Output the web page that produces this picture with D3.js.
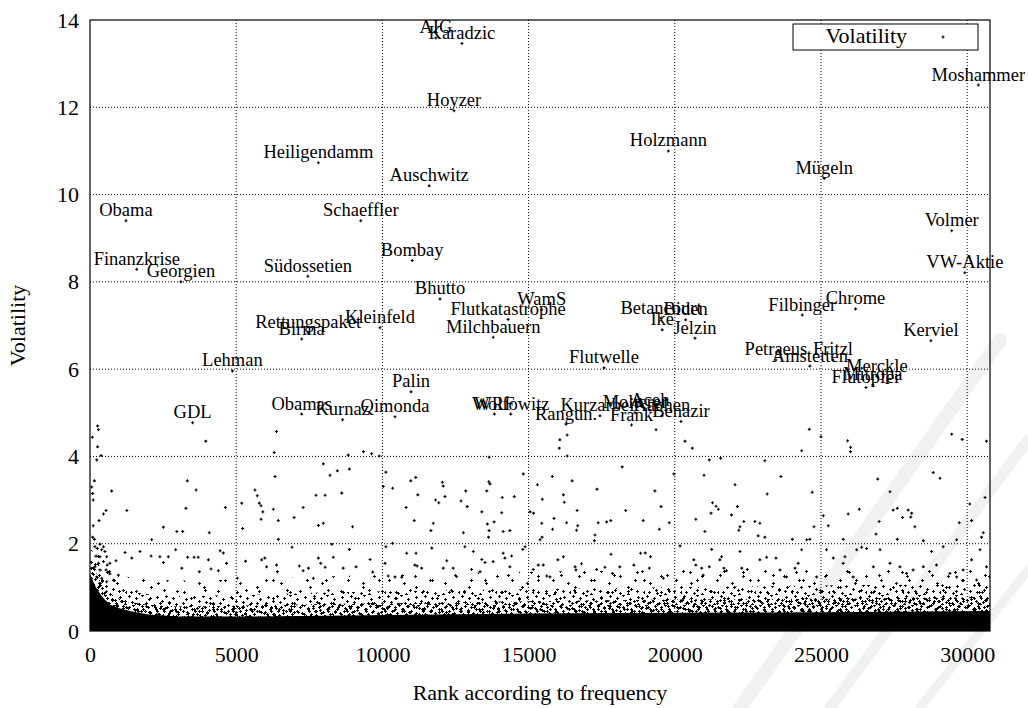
<!DOCTYPE html>
<html>
<head>
<meta charset="UTF-8">
<title>Volatility by frequency rank</title>
<script src="https://cdn.jsdelivr.net/npm/d3@7"></script>
<style>
  body { margin: 0; background: #fff; }
  text { font-family: "Liberation Serif", "DejaVu Serif", serif; fill: #000; }
</style>
</head>
<body>
<script>
// axis ticks
var xTicks = [0, 5000, 10000, 15000, 20000, 25000, 30000];
var yTicks = [0, 2, 4, 6, 8, 10, 12, 14];

// labelled words: name, rank, volatility
var words = ["AIG","Karadzic","Hoyzer","Holzmann","Heiligendamm","Auschwitz","Moshammer","Mügeln","Volmer","Obama",
  "Schaeffler","Finanzkrise","Georgien","Südossetien","Bombay","VW-Aktie","Bhutto","WamS","Flutkatastrophe","Filbinger",
  "Chrome","Betancourt","Biden","Ike","Jelzin","Kleinfeld","Rettungspaket","Birma","Milchbauern","Kerviel",
  "Lehman","Flutwelle","Petraeus","Fritzl","Amstetten","Merckle","Mitropa","Flutopfer","Palin","GDL",
  "Obamas","Kurnaz","Qimonda","WRF","Wolfowitz","Kurzarbeit","Rangun.","Molterer","Aceh","Aachen","Frank","Benazir"];
var wordRank = [11830,12720,12450,19780,7810,11600,30380,25110,29470,1230,
  9260,1600,3110,7450,11020,29920,11970,15450,14300,24360,
  26180,19530,20370,19570,20690,9920,7460,7240,13790,28760,
  4870,17580,23460,25410,24620,26910,26770,26540,10980,3510,
  7240,8640,10430,13830,14390,17440,16280,18640,19150,19560,18520,20210];
var wordVol = [13.59,13.46,11.92,11.00,10.73,10.20,12.51,10.37,9.17,9.40,
  9.40,8.29,8.00,8.13,8.49,8.21,7.61,7.36,7.14,7.24,
  7.38,7.17,7.13,6.90,6.71,6.95,6.83,6.69,6.73,6.65,
  5.96,6.03,6.21,6.21,6.07,5.84,5.64,5.58,5.48,4.77,
  4.97,4.84,4.91,4.97,4.97,4.93,4.74,5.00,5.06,4.93,4.72,4.80];

// unlabelled points above the dense cloud [rank, volatility]
var scatter = [
  [60,3.30],[90,3.15],[110,3.00],[150,3.44],[230,3.92],[380,4.02],[110,2.41],[310,2.53],[460,2.68],[550,2.76],
  [740,3.21],[1260,2.76],[2510,2.38],[2970,2.28],[3170,2.28],[3280,2.81],[3330,3.44],[3630,3.23],[4080,2.25],[4630,2.83],
  [5190,2.93],[5220,2.35],[5640,3.23],[5720,3.10],[5790,2.93],[5850,2.87],[5910,2.73],[5850,2.56],[6270,2.79],[6330,3.54],
  [6300,4.09],[6440,2.53],[6980,2.60],[7290,2.83],[7730,3.11],[7810,2.42],[7980,2.47],[8040,3.11],[7980,3.83],[6440,2.10],
  [2110,2.09],[8270,1.99],[260,4.70],[290,4.61],[80,4.44],[260,4.22],[3960,4.35],[6380,4.57],
  [890,1.61],[1200,1.80],[1430,1.67],[1710,1.82],[2090,1.72],[2390,1.70],[2510,1.57],[2680,1.70],[2930,1.86],[3140,1.44],
  [3340,1.69],[3560,1.69],[3700,1.69],[3740,1.36],[4050,1.63],[4140,1.42],[4390,1.38],[4450,1.84],[4560,1.79],[4670,1.55],
  [5040,1.21],[5320,1.60],[5870,1.63],[5980,1.67],[6040,1.47],[6380,1.51],[6410,1.36],[6910,1.92],[7160,1.49],[7290,1.38],
  [7470,1.44],[7640,1.21],[7810,1.67],[7890,1.55],[8040,1.46],
  [90,2.15],[150,2.10],[170,1.93],[250,1.89],[340,1.99],[400,1.86],[460,1.93],[510,1.82],[570,1.70],[340,1.70],
  [210,1.72],[290,1.55],[460,1.59],[590,1.51],[680,1.55],[170,1.47],[340,1.40],[550,1.40],[680,1.31],[230,1.24],
  [400,1.21],[570,1.13],[800,1.16],[970,1.28],[110,1.05],[320,1.02],
  [8210,3.57],[8460,3.67],[8870,3.71],[8610,3.16],[8980,2.39],[8830,4.03],[9350,4.11],[9630,4.06],[9890,4.01],[10030,3.31],
  [10120,3.64],[10350,3.27],[10810,2.83],[10970,3.44],[11140,3.52],[11090,2.53],[11210,3.12],[11660,2.30],[11740,2.47],[11820,3.00],
  [11930,2.94],[12050,3.41],[12080,3.32],[12140,3.08],[12690,2.98],[12770,2.25],[12850,3.21],[12900,2.85],[13400,2.73],[13570,3.21],
  [13640,3.42],[13680,3.37],[13590,2.45],[13650,2.30],[13630,2.15],[13820,2.50],[14080,2.71],[14130,2.28],[14100,3.06],[14360,2.30],
  [14510,3.08],[14820,3.60],[15050,2.73],[15170,2.70],[15300,3.35],[15450,2.47],[15470,3.02],[15390,2.09],[15460,2.15],[15810,3.54],
  [15870,2.58],[15820,2.33],[16190,3.12],[16220,2.95],[16300,2.48],[16490,3.44],[16660,2.76],[16680,2.41],[16640,2.31],[17270,2.20],
  [17250,2.07],[17380,2.48],[17340,3.25],[17670,2.50],[17810,2.53],[18200,3.76],[18320,2.76],[18920,2.53],[19320,3.21],[19470,2.33],
  [19530,2.85],[19810,2.48],[13650,3.98],[16320,4.01],[16070,4.38],[16320,4.49],[16050,4.19],[19360,4.61],
  [8320,1.69],[8660,1.44],[8870,1.87],[9100,1.47],[9580,1.64],[9670,1.35],[10120,1.93],[10350,2.01],[10090,1.55],[10200,1.26],
  [10430,1.24],[10660,1.23],[10830,1.78],[11150,1.78],[11110,1.51],[11190,1.49],[11340,1.44],[11690,1.90],[12080,1.44],[12200,1.61],
  [12420,1.44],[12820,1.93],[13050,1.41],[13110,1.82],[13400,1.64],[13340,1.36],[13510,1.57],[13790,1.59],[14130,1.78],[14190,1.67],
  [14420,1.72],[14360,1.47],[14800,1.87],[14880,1.93],[15160,1.41],[15330,1.51],[15500,1.51],[15620,1.26],[15730,1.24],[16000,1.63],
  [16190,1.70],[16590,1.47],[16620,1.40],[16810,1.54],[17330,1.41],[17610,1.46],[17820,1.76],[17870,1.32],[18120,1.47],[18600,1.51],
  [18830,1.78],[18990,1.79],[19170,1.70],[19130,1.44],[19610,1.21],
  [20350,4.35],[20600,4.19],[24600,4.62],[25000,4.45],[25910,4.36],[26010,4.21],[29470,4.51],[29830,4.39],[30660,4.35],
  [19970,3.60],[21000,3.57],[21180,3.92],[21570,3.96],[20720,2.56],[21030,2.28],[21290,2.94],[21410,2.86],[21490,2.79],[21240,2.70],
  [21940,2.66],[22060,3.35],[22140,2.85],[22230,2.39],[22190,2.31],[22360,2.51],[22740,2.51],[22910,2.47],[22850,2.18],[23080,2.15],
  [23080,3.90],[23160,3.14],[23630,3.54],[24020,2.10],[24340,4.13],[24510,2.09],[24620,2.10],[24700,3.18],[24760,2.39],[25080,2.64],
  [25250,2.41],[25760,2.10],[25930,2.68],[26010,4.11],[26310,2.79],[26880,2.22],[26940,3.48],[26990,2.51],[27360,3.19],[27470,2.77],
  [27610,2.81],[27610,2.10],[27790,2.60],[27980,2.77],[28100,2.70],[28070,2.61],[28210,2.39],[28500,2.07],[28840,3.63],[29070,3.50],
  [29640,2.09],[29730,2.48],[30090,2.91],[30150,2.53],[30490,2.15],[30550,2.25],[30610,3.06],
  [20180,1.95],[20650,1.63],[20720,1.51],[20920,1.44],[20970,1.28],[21180,1.47],[21260,1.87],[21540,1.63],[21600,1.70],[21680,1.44],
  [21770,1.38],[22230,1.82],[22290,1.44],[22480,1.41],[22910,1.63],[23140,1.69],[23460,1.67],[23600,1.40],[23820,1.24],[24110,1.44],
  [24340,1.86],[24220,1.55],[24850,1.24],[25190,1.86],[25420,1.67],[25760,1.55],[25820,1.70],[26100,1.24],[26220,1.86],[26390,1.92],
  [26560,1.89],[26790,1.47],[27020,1.86],[27360,1.55],[27700,1.47],[27930,1.32],[28150,1.40],[28500,1.47],[28780,1.82],[28950,1.51],
  [29180,1.93],[29410,1.32],[29640,1.24],[29860,1.40],[30150,1.63],[30320,1.17],[30440,1.86],[30660,1.47]
];

// envelope of the dense cloud near zero, read per rank
var bandRank  = [0,    100,  200,  350,  500,  700,  1000, 1400, 2000, 3000, 5000, 8000, 11000, 15000, 20000, 25000, 30780];
var solidTop  = [1.30, 1.15, 1.00, 0.85, 0.72, 0.60, 0.52, 0.45, 0.38, 0.33, 0.33, 0.35, 0.37,  0.40,  0.42,  0.43,  0.46];
var denseTop  = [1.65, 1.50, 1.35, 1.15, 0.98, 0.85, 0.74, 0.66, 0.60, 0.56, 0.58, 0.62, 0.64,  0.68,  0.72,  0.74,  0.78];
var midTop    = [1.95, 1.80, 1.65, 1.45, 1.25, 1.10, 0.98, 0.90, 0.84, 0.80, 0.82, 0.88, 0.92,  0.96,  1.00,  1.04,  1.08];
var sparseTop = [2.20, 2.05, 1.90, 1.75, 1.55, 1.40, 1.30, 1.22, 1.18, 1.15, 1.18, 1.25, 1.30,  1.36,  1.40,  1.44,  1.48];

var margin = {top: 20, right: 38, bottom: 77, left: 90};
var width = 1028 - margin.left - margin.right;
var height = 708 - margin.top - margin.bottom;

var svg = d3.select("body").append("svg")
    .attr("width", 1028)
    .attr("height", 708);

var defs = svg.append("defs");
defs.append("clipPath").attr("id", "plotclip")
  .append("rect").attr("width", width).attr("height", height);

// texture tiles for the speckled part of the cloud
var tiles = [
  {id: "tileA", w: 37, h: 23, marks: [[2,1],[9,3],[15,0],[22,4],[30,2],[35,6],[5,7],[12,9],[19,8],[27,10],
                                      [33,13],[1,13],[8,15],[16,14],[23,17],[29,19],[36,20],[4,20],[12,21],[20,22]]},
  {id: "tileB", w: 29, h: 17, marks: [[3,3],[11,1],[18,5],[25,2],[7,9],[15,11],[22,13],[27,8],[1,14],[10,16]]},
  {id: "tileC", w: 41, h: 27, marks: [[5,4],[19,11],[33,3],[12,20],[27,23],[38,16]]},
  {id: "tileD", w: 53, h: 31, marks: [[8,9],[24,2],[41,14],[17,25],[47,28]]},
  {id: "tileE", w: 19, h: 13, marks: [[1,2],[5,0],[9,4],[14,1],[17,6],[3,8],[7,11],[12,9],[16,12],[10,6]]}
];

function plus(px, py) {
  return "M" + (px - 1.5) + "," + py + "h3M" + px + "," + (py - 1.5) + "v3";
}

tiles.forEach(function(t) {
  defs.append("pattern")
      .attr("id", t.id)
      .attr("patternUnits", "userSpaceOnUse")
      .attr("width", t.w)
      .attr("height", t.h)
    .append("path")
      .attr("d", t.marks.map(function(m) { return plus(m[0] + 0.5, m[1] + 0.5); }).join(""))
      .attr("stroke", "#000")
      .attr("stroke-width", 1)
      .attr("fill", "none");
});

// faint publisher watermark, lower right
var wm = svg.append("g").attr("stroke", "#f1f1f1").attr("stroke-linecap", "round").attr("fill", "none");
wm.append("line").attr("x1", 740).attr("y1", 708).attr("x2", 1000).attr("y2", 340).attr("stroke-width", 14);
wm.append("line").attr("x1", 830).attr("y1", 708).attr("x2", 1028).attr("y2", 440).attr("stroke-width", 11);
wm.append("line").attr("x1", 920).attr("y1", 708).attr("x2", 1028).attr("y2", 570).attr("stroke-width", 9);

var g = svg.append("g")
    .attr("transform", "translate(" + margin.left + "," + margin.top + ")");

var x = d3.scaleLinear().domain([0, 30780]).range([0, width]);
var y = d3.scaleLinear().domain([0, 14]).range([height, 0]);

// grid
g.append("g").selectAll("line")
    .data(xTicks.filter(function(d) { return d > 0; }))
  .enter().append("line")
    .attr("x1", function(d) { return x(d); })
    .attr("x2", function(d) { return x(d); })
    .attr("y1", 0).attr("y2", height)
    .attr("stroke", "#000").attr("stroke-width", 1)
    .attr("stroke-dasharray", "1,2");

g.append("g").selectAll("line")
    .data(yTicks.filter(function(d) { return d > 0 && d < 14; }))
  .enter().append("line")
    .attr("y1", function(d) { return y(d); })
    .attr("y2", function(d) { return y(d); })
    .attr("x1", 0).attr("x2", width)
    .attr("stroke", "#000").attr("stroke-width", 1)
    .attr("stroke-dasharray", "1,2");

// axes (labels only, gnuplot style)
var xAxis = d3.axisBottom(x).tickValues(xTicks).tickSize(0).tickPadding(15).tickFormat(d3.format("d"));
var yAxis = d3.axisLeft(y).tickValues(yTicks).tickSize(0).tickPadding(11).tickFormat(d3.format("d"));

g.append("g")
    .attr("transform", "translate(0," + height + ")")
    .call(xAxis)
    .call(function(s) { s.select(".domain").remove(); })
    .selectAll("text")
    .style("font-size", "22px")
    .style("font-family", "'Liberation Serif', serif");

g.append("g")
    .call(yAxis)
    .call(function(s) { s.select(".domain").remove(); })
    .selectAll("text")
    .style("font-size", "22px")
    .style("font-family", "'Liberation Serif', serif");

// dense cloud
var band = bandRank.map(function(r, i) {
  return {r: r, s: solidTop[i], d: denseTop[i], m: midTop[i], p: sparseTop[i]};
});

var cloud = g.append("g").attr("clip-path", "url(#plotclip)");

cloud.append("path")
    .datum(band)
    .attr("fill", "#000")
    .attr("d", d3.area()
      .x(function(d) { return x(d.r); })
      .y0(y(0))
      .y1(function(d) { return y(d.s); }));

function speckle(lo, hi, ids) {
  ids.forEach(function(id) {
    cloud.append("path")
        .datum(band)
        .attr("fill", "url(#" + id + ")")
        .attr("d", d3.area()
          .x(function(d) { return x(d.r); })
          .y0(function(d) { return y(d[lo]) + 1; })
          .y1(function(d) { return y(d[hi]); }));
  });
}
speckle("s", "d", ["tileA", "tileB", "tileE"]);
speckle("d", "m", ["tileA", "tileC", "tileD"]);
speckle("m", "p", ["tileC", "tileD"]);

// single points
cloud.append("path")
    .attr("d", scatter.map(function(d) { return plus(x(d[0]), y(d[1])); }).join(""))
    .attr("stroke", "#000")
    .attr("stroke-width", 1.1)
    .attr("fill", "none");

cloud.append("path")
    .attr("d", wordRank.map(function(r, i) { return plus(x(r), y(wordVol[i])); }).join(""))
    .attr("stroke", "#000")
    .attr("stroke-width", 1.1)
    .attr("fill", "none");

// word labels
g.append("g").selectAll("text")
    .data(words)
  .enter().append("text")
    .attr("x", function(d, i) { return x(wordRank[i]); })
    .attr("y", function(d, i) { return y(wordVol[i]) - 4.5; })
    .attr("text-anchor", "middle")
    .style("font-size", "18.5px")
    .text(function(d) { return d; });

// legend
var legend = g.append("g").attr("transform", "translate(703,4)");
legend.append("rect")
    .attr("width", 185).attr("height", 26)
    .attr("fill", "#fff").attr("stroke", "#000").attr("stroke-width", 1);
legend.append("text")
    .attr("x", 114).attr("y", 19)
    .attr("text-anchor", "end")
    .style("font-size", "22px")
    .text("Volatility");
legend.append("path")
    .attr("d", plus(150, 13))
    .attr("stroke", "#000").attr("stroke-width", 1.1);

// frame
g.append("rect")
    .attr("width", width).attr("height", height)
    .attr("fill", "none").attr("stroke", "#000").attr("stroke-width", 1.2);

// axis titles
svg.append("text")
    .attr("x", margin.left + width / 2)
    .attr("y", 700)
    .attr("text-anchor", "middle")
    .style("font-size", "22px")
    .text("Rank according to frequency");

svg.append("text")
    .attr("transform", "translate(25," + (margin.top + height / 2) + ") rotate(-90)")
    .attr("text-anchor", "middle")
    .style("font-size", "22px")
    .text("Volatility");
</script>
</body>
</html>
